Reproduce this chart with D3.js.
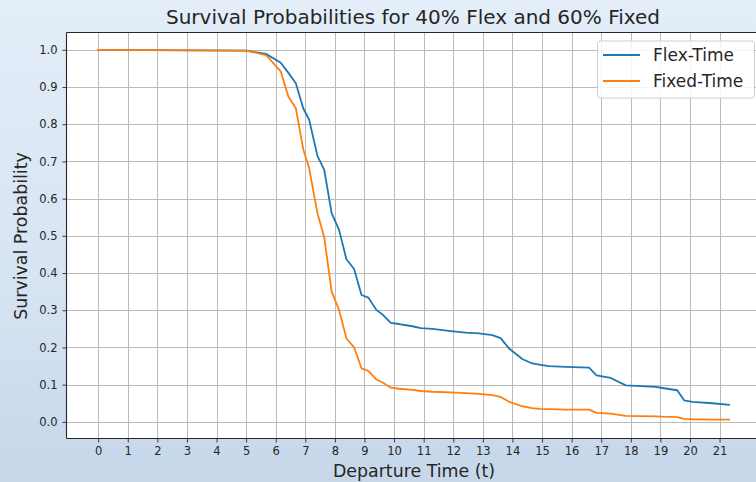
<!DOCTYPE html>
<html>
<head>
<meta charset="utf-8">
<script src="https://cdn.jsdelivr.net/npm/d3@7"></script>
<style>
html,body{margin:0;padding:0;overflow:hidden;}
svg{display:block;font-family:"DejaVu Sans",sans-serif;}
</style>
</head>
<body>
<svg id="chart" width="756" height="482"></svg>
<script>
const title = "Survival Probabilities for 40% Flex and 60% Fixed";
const xLabel = "Departure Time (t)";
const yLabel = "Survival Probability";
const seriesNames = ["Flex-Time", "Fixed-Time"];
const seriesColors = ["#1f77b4", "#ff7f0e"];
const xTicks = d3.range(0, 22);
const yTicks = [0.0,0.1,0.2,0.3,0.4,0.5,0.6,0.7,0.8,0.9,1.0];

const times = [0, 5.0, 5.67, 6.17, 6.43, 6.68, 6.93, 7.13, 7.41, 7.64, 7.89, 8.14, 8.39, 8.65, 8.90, 9.13, 9.40, 9.63, 9.89, 10.17, 10.62, 10.90, 11.29, 11.92, 12.42, 12.87, 13.32, 13.60, 13.89, 14.33, 14.67, 14.90, 15.24, 15.80, 16.59, 16.84, 17.32, 17.83, 18.84, 19.07, 19.57, 19.80, 20.08, 20.75, 21.32];
const flexTime = [1.0, 0.998, 0.989, 0.965, 0.938, 0.910, 0.843, 0.812, 0.715, 0.677, 0.561, 0.516, 0.437, 0.411, 0.341, 0.334, 0.301, 0.287, 0.266, 0.263, 0.257, 0.252, 0.250, 0.244, 0.240, 0.238, 0.233, 0.225, 0.197, 0.169, 0.157, 0.154, 0.150, 0.148, 0.146, 0.125, 0.118, 0.098, 0.094, 0.091, 0.085, 0.058, 0.054, 0.050, 0.046];
const fixedTime = [1.0, 0.998, 0.986, 0.942, 0.874, 0.843, 0.733, 0.682, 0.561, 0.496, 0.350, 0.301, 0.224, 0.200, 0.144, 0.137, 0.114, 0.105, 0.092, 0.089, 0.086, 0.083, 0.081, 0.079, 0.077, 0.075, 0.072, 0.067, 0.054, 0.042, 0.037, 0.035, 0.034, 0.033, 0.033, 0.024, 0.022, 0.016, 0.015, 0.014, 0.013, 0.008, 0.007, 0.006, 0.006];

const W = 756, H = 482;
const plot = {left: 66.5, right: 761, top: 32.5, bottom: 438.5};

const svg = d3.select("#chart");
const defs = svg.append("defs");
const grad = defs.append("linearGradient").attr("id","bg").attr("x1",0).attr("y1",0).attr("x2",0).attr("y2",1);
grad.append("stop").attr("offset","0%").attr("stop-color","#e4eef9");
grad.append("stop").attr("offset","60%").attr("stop-color","#d6e3f2");
grad.append("stop").attr("offset","100%").attr("stop-color","#c6d7ea");
svg.append("rect").attr("width",W).attr("height",H).attr("fill","url(#bg)");

const x = d3.scaleLinear().domain([-1.07, 22.4]).range([plot.left, plot.right]);
const y = d3.scaleLinear().domain([-0.0447, 1.0465]).range([plot.bottom, plot.top]);

svg.append("rect").attr("x",plot.left).attr("y",plot.top)
  .attr("width",plot.right-plot.left).attr("height",plot.bottom-plot.top).attr("fill","#ffffff");

// grid
const grid = svg.append("g").attr("stroke","#b0b0b0").attr("stroke-width",1).attr("opacity",0.85);
grid.selectAll("line.vx").data(xTicks).join("line")
  .attr("x1",d=>Math.round(x(d))+0.5).attr("x2",d=>Math.round(x(d))+0.5)
  .attr("y1",plot.top).attr("y2",plot.bottom);
grid.selectAll("line.hy").data(yTicks).join("line")
  .attr("y1",d=>Math.round(y(d))+0.5).attr("y2",d=>Math.round(y(d))+0.5)
  .attr("x1",plot.left).attr("x2",plot.right);

// lines
const line = d3.line().x((d,i)=>x(times[i])).y(d=>y(d));
[flexTime, fixedTime].forEach((s,k)=>{
  svg.append("path").datum(s).attr("d",line).attr("fill","none")
    .attr("stroke",seriesColors[k]).attr("stroke-width",1.8)
    .attr("stroke-linejoin","round").attr("stroke-linecap","square");
});

// axes
const xAxis = d3.axisBottom(x).tickValues(xTicks).tickFormat(d3.format("d")).tickSize(4).tickPadding(4);
const yAxis = d3.axisLeft(y).tickValues(yTicks).tickFormat(d3.format(".1f")).tickSize(4).tickPadding(5);
const gx = svg.append("g").attr("transform",`translate(0,${plot.bottom})`).call(xAxis);
const gy = svg.append("g").attr("transform",`translate(${plot.left},0)`).call(yAxis);
[gx,gy].forEach(g=>{
  g.select(".domain").remove();
  g.selectAll(".tick line").attr("stroke","#262626").attr("stroke-width",0.9);
  g.selectAll(".tick text").attr("fill","#262626").attr("font-size","11.5px").attr("font-family","DejaVu Sans");
});

// spines
const sp = svg.append("g").attr("stroke","#262626").attr("stroke-width",1.1).attr("fill","none");
sp.append("line").attr("x1",plot.left).attr("x2",plot.left).attr("y1",plot.top).attr("y2",plot.bottom);
sp.append("line").attr("x1",plot.left).attr("x2",plot.right).attr("y1",plot.bottom).attr("y2",plot.bottom);
sp.append("line").attr("x1",plot.left).attr("x2",plot.right).attr("y1",plot.top).attr("y2",plot.top);

// title and labels
svg.append("text").attr("x",413).attr("y",24).attr("text-anchor","middle")
  .attr("font-size","20px").attr("fill","#262626").text(title);
svg.append("text").attr("x",414).attr("y",477).attr("text-anchor","middle")
  .attr("font-size","17.4px").attr("fill","#262626").text(xLabel);
svg.append("text").attr("transform","translate(27,236) rotate(-90)").attr("text-anchor","middle")
  .attr("font-size","17.4px").attr("fill","#262626").text(yLabel);

// legend
const lg = svg.append("g");
lg.append("rect").attr("x",597.5).attr("y",41).attr("width",157).attr("height",57).attr("rx",3)
  .attr("fill","#ffffff").attr("fill-opacity",0.85).attr("stroke","#d0d0d0");
seriesNames.forEach((n,i)=>{
  const yy = 55 + i*26;
  lg.append("line").attr("x1",603).attr("x2",640).attr("y1",yy).attr("y2",yy)
    .attr("stroke",seriesColors[i]).attr("stroke-width",1.8);
  lg.append("text").attr("x",653).attr("y",yy+6).attr("font-size","17px").attr("fill","#262626").text(n);
});
</script>
</body>
</html>
